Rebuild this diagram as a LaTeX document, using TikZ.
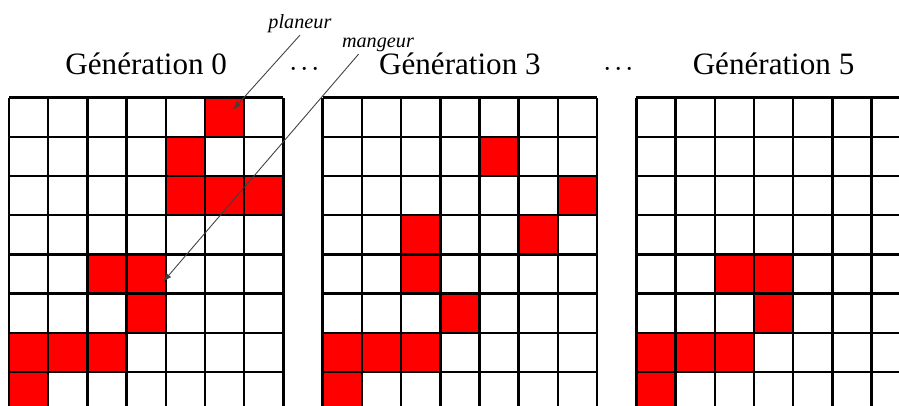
\documentclass[tikz,border=0pt]{standalone}
\usepackage{fontspec}
\setmainfont{Liberation Serif}
\usetikzlibrary{arrows.meta}

\newcommand{\troispts}{${\cdotp}\mkern1.5mu{\cdotp}\mkern1.5mu{\cdotp}$}

\begin{document}
\begin{tikzpicture}[x=0.784cm, y=0.784cm,
    vivante/.style={fill=red},
    grille/.style={step=1, line width=1.4pt},
    titre/.style={anchor=base, font=\fontsize{17.7}{20}\selectfont},
    etiq/.style={font=\fontsize{11.5}{13}\selectfont\itshape, inner sep=1pt},
    arr/.style={-{Latex[length=5pt,width=3.5pt]}, line width=0.5pt, black!75}
]
\useasboundingbox (-0.23,-7.865) rectangle (22.70,2.49);
\clip (-0.23,-7.865) rectangle (22.70,2.49);

% cellules vivantes (colonne/ligne)
\foreach \c/\r in {5/0,4/1,4/2,5/2,6/2,2/4,3/4,3/5,0/6,1/6,2/6,0/7}
  \fill[vivante] (\c,-\r) rectangle ++(1,-1);
\foreach \c/\r in {4/1,6/2,2/3,5/3,2/4,3/5,0/6,1/6,2/6,0/7}
  \fill[vivante] (8+\c,-\r) rectangle ++(1,-1);
\foreach \c/\r in {2/4,3/4,3/5,0/6,1/6,2/6,0/7}
  \fill[vivante] (16+\c,-\r) rectangle ++(1,-1);

% grilles
\foreach \g in {0,8,16}
  \draw[grille] (\g,0) grid (\g+7,-8);

\node[titre] (gen0) at (3.5,0.58) {Génération 0};
\node[titre] (gen3) at (11.5,0.58) {Génération 3};
\node[titre] (gen5) at (19.5,0.58) {Génération 5};
\node[titre] (pts1) at (7.55,0.55) {\troispts};
\node[titre] (pts2) at (15.55,0.55) {\troispts};

\node[etiq] (planeur) at (7.42,1.88) {planeur};
\node[etiq] (mangeur) at (9.41,1.34) {mangeur};
\coordinate (c1) at (5.71,-0.31);
\coordinate (c2) at (3.93,-4.70);

\draw[arr] (planeur.south) -- (c1);
\draw[arr] (mangeur.205) -- (c2);
\end{tikzpicture}
\end{document}
